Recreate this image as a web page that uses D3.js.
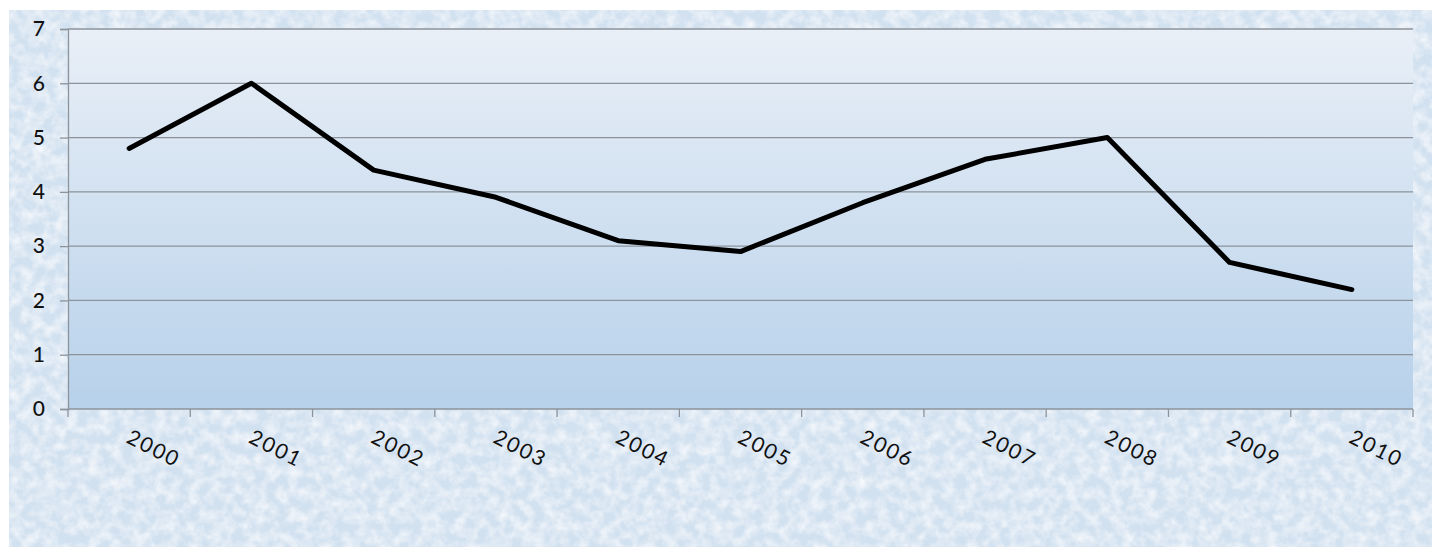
<!DOCTYPE html>
<html>
<head>
<meta charset="utf-8">
<script src="https://cdn.jsdelivr.net/npm/d3@7"></script>
<style>
  body { margin: 0; background: #fff; }
  svg { display: block; }
</style>
</head>
<body>
<script>
const years = ["2000", "2001", "2002", "2003", "2004", "2005", "2006", "2007", "2008", "2009", "2010"];
const values = [4.8, 6.0, 4.4, 3.9, 3.1, 2.9, 3.8, 4.6, 5.0, 2.7, 2.2];
const yTicks = [0, 1, 2, 3, 4, 5, 6, 7];

const W = 1432, H = 547;
const plot = { left: 68, top: 29, right: 1413, bottom: 409 };

let svg = d3.select("body").append("svg")
  .attr("width", W)
  .attr("height", H);

let defs = svg.append("defs");

// speckled background texture
let tex = defs.append("filter").attr("id", "tex")
  .attr("x", 0).attr("y", 0).attr("width", 1).attr("height", 1);
tex.append("feTurbulence")
  .attr("type", "fractalNoise")
  .attr("baseFrequency", "0.09")
  .attr("numOctaves", 3)
  .attr("seed", 7)
  .attr("result", "noise");
tex.append("feColorMatrix")
  .attr("in", "noise")
  .attr("type", "matrix")
  .attr("values", "0 0 0 0 1  0 0 0 0 1  0 0 0 0 1  1.3 0 0 0 -0.45")
  .attr("result", "white");
tex.append("feComposite").attr("in", "white").attr("in2", "SourceGraphic").attr("operator", "over");

// plot area gradient
let grad = defs.append("linearGradient").attr("id", "plotGrad")
  .attr("x1", 0).attr("y1", 0).attr("x2", 0).attr("y2", 1);
grad.append("stop").attr("offset", "0%").attr("stop-color", "#e9eff7");
grad.append("stop").attr("offset", "100%").attr("stop-color", "#b7d1ea");

svg.append("rect")
  .attr("x", 9).attr("y", 10)
  .attr("width", W - 9).attr("height", H - 10)
  .attr("fill", "#d2e1f0")
  .attr("filter", "url(#tex)");

let x = d3.scaleBand()
  .domain(years)
  .range([plot.left, plot.right]);

let y = d3.scaleLinear()
  .domain([0, 7])
  .range([plot.bottom, plot.top]);

svg.append("rect")
  .attr("x", plot.left).attr("y", plot.top)
  .attr("width", plot.right - plot.left)
  .attr("height", plot.bottom - plot.top)
  .attr("fill", "url(#plotGrad)");

// gridlines
svg.append("g")
  .selectAll("line")
  .data(yTicks.filter(d => d > 0))
  .enter().append("line")
  .attr("x1", plot.left).attr("x2", plot.right)
  .attr("y1", d => y(d)).attr("y2", d => y(d))
  .style("stroke", "#8c939b")
  .style("stroke-width", 1.3);

// y axis
let yAxis = svg.append("g")
  .attr("transform", `translate(${plot.left},0)`)
  .call(d3.axisLeft(y).tickValues(yTicks).tickSize(8).tickPadding(15).tickFormat(d3.format("d")));
yAxis.select(".domain").style("stroke", "#8c939b").style("stroke-width", 1.3);
yAxis.selectAll(".tick line").style("stroke", "#8c939b").style("stroke-width", 1.3);
yAxis.selectAll(".tick text")
  .style("font-family", "Lato, 'Open Sans', sans-serif")
  .style("font-size", "21px")
  .style("font-weight", 500)
  .style("fill", "#111");

// x axis: ticks on band boundaries
let xAxisG = svg.append("g")
  .attr("transform", `translate(0,${plot.bottom})`);
xAxisG.append("line")
  .attr("x1", plot.left).attr("x2", plot.right)
  .style("stroke", "#8c939b").style("stroke-width", 1.5);
xAxisG.selectAll("line.tk")
  .data(years.concat(["end"]))
  .enter().append("line")
  .attr("class", "tk")
  .attr("x1", (d, i) => plot.left + i * x.step())
  .attr("x2", (d, i) => plot.left + i * x.step())
  .attr("y1", 0).attr("y2", 8)
  .style("stroke", "#8c939b").style("stroke-width", 1.3);
xAxisG.selectAll("text")
  .data(years)
  .enter().append("text")
  .attr("transform", d => `translate(${x(d) + x.bandwidth() / 2 - 4},${33}) rotate(27)`)
  .attr("text-anchor", "start")
  .style("font-family", "Lato, 'Open Sans', sans-serif")
  .style("font-size", "21px")
  .style("letter-spacing", "2px")
  .style("fill", "#111")
  .text(d => d);

// the line
let line = d3.line()
  .x((d, i) => x(years[i]) + x.bandwidth() / 2)
  .y(d => y(d));

svg.append("path")
  .datum(values)
  .attr("d", line)
  .style("fill", "none")
  .style("stroke", "#000")
  .style("stroke-width", 5)
  .style("stroke-linejoin", "round")
  .style("stroke-linecap", "round");
</script>
</body>
</html>
